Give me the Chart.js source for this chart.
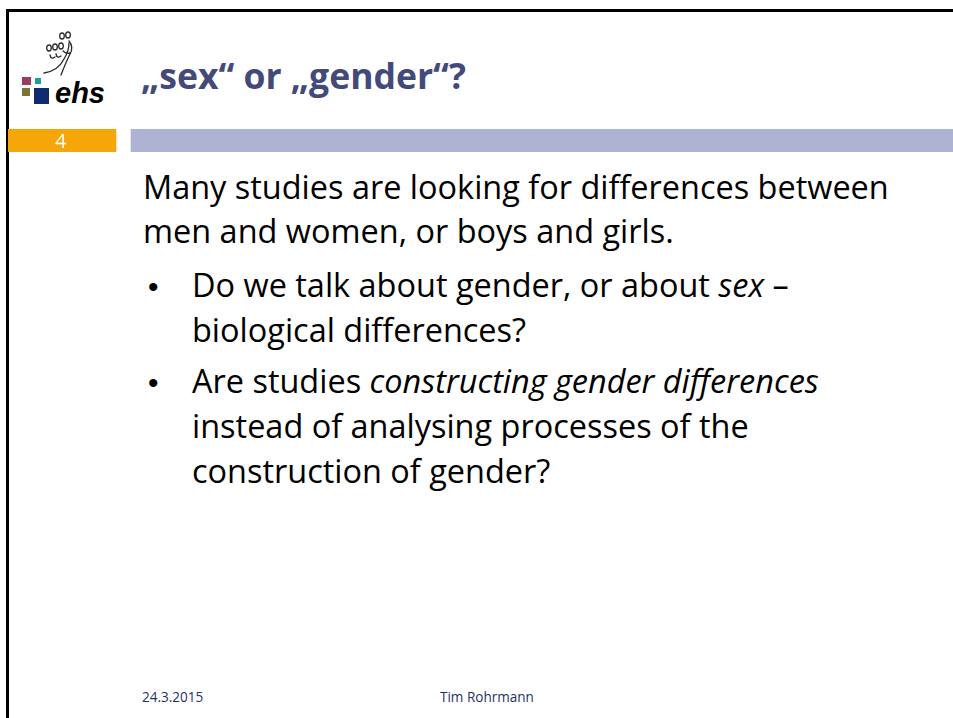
<!DOCTYPE html>
<html>
<head>
<meta charset="utf-8">
<script src="https://cdn.jsdelivr.net/npm/chart.js@4.4.1/dist/chart.umd.min.js"></script>
<style>
  body { margin: 0; background: #fff; width: 953px; height: 718px; overflow: hidden; position: relative; font-family: "Open Sans", Lato, sans-serif; }
  .frame-top { position: absolute; left: 6px; top: 9px; width: 947px; height: 3px; background: #000; }
  .frame-left { position: absolute; left: 6px; top: 9px; width: 3px; height: 709px; background: #000; }
  #band { position: absolute; left: 8px; top: 129px; width: 945px; height: 23px; }
  .t { position: absolute; white-space: nowrap; line-height: 1.2; }
  .title { font-weight: bold; color: #434a7a; }
  .body { color: #000; }
  .bullet { color: #000; font-family: "Liberation Sans", Arial, sans-serif; }
  .foot { color: #1f3068; }
  .num { color: #fff; }
  .sq { position: absolute; }
</style>
</head>
<body>
<div class="frame-top"></div>
<div class="frame-left"></div>

<!-- logo -->
<svg style="position:absolute;left:0;top:0" width="120" height="110">
  <g fill="none" stroke="#2a2a2a" stroke-width="1.3" stroke-linecap="round">
    <ellipse cx="62" cy="36" rx="2.3" ry="3"/>
    <ellipse cx="68" cy="35" rx="2.3" ry="3"/>
    <ellipse cx="49" cy="48" rx="2.3" ry="3"/>
    <ellipse cx="55" cy="47" rx="2.3" ry="3"/>
    <ellipse cx="61" cy="46" rx="2.3" ry="3"/>
    <path d="M50 55 q1 5 5 2"/>
    <path d="M56 54 q1 5 5 2"/>
    <path d="M69 41 q5 6 1 13 q-4 8 -9 21"/>
    <path d="M44 73 q14 -2 20 -14 q5 -8 5 -16"/>
    <path d="M63 51 q3 3 7 2"/>
  </g>
</svg>
<div class="sq" style="left:22px;top:77px;width:9px;height:8px;background:#9b3c58"></div>
<div class="sq" style="left:35px;top:78px;width:6px;height:6px;background:#1a9f9a"></div>
<div class="sq" style="left:22px;top:88px;width:8px;height:8px;background:#7d7430"></div>
<div class="sq" style="left:34px;top:88px;width:15px;height:16px;background:#0f2a6e"></div>
<div class="t" id="logo" style="font-weight:bold;font-style:italic;color:#000;font-family:'Liberation Sans',Arial,sans-serif">ehs</div>

<div class="t title" id="title">„sex“ or „gender“?</div>

<canvas id="band" width="945" height="23"></canvas>
<div class="t num" id="num">4</div>

<div class="t body" id="l1">Many studies are looking for differences between</div>
<div class="t body" id="l2">men and women, or boys and girls.</div>
<div class="t bullet" id="b1">•</div>
<div class="t body" id="l3">Do we talk about gender, or about <i>sex</i> –</div>
<div class="t body" id="l4">biological differences?</div>
<div class="t bullet" id="b2">•</div>
<div class="t body" id="l5">Are studies <i>constructing gender differences</i></div>
<div class="t body" id="l6">instead of analysing processes of the</div>
<div class="t body" id="l7">construction of gender?</div>

<div class="t foot" id="f1">24.3.2015</div>
<div class="t foot" id="f2">Tim Rohrmann</div>

<script>
// header band: slide number box, gap, grey bar
const bandLabels = ["band"];
const bandOrange = [108];
const bandGap = [15];
const bandGrey = [822];

new Chart(document.getElementById("band"), {
  type: "bar",
  data: {
    labels: bandLabels,
    datasets: [
      { data: bandOrange, backgroundColor: "#f5a70a" },
      { data: bandGap, backgroundColor: "rgba(0,0,0,0)" },
      { data: bandGrey, backgroundColor: "#afb3d3" },
    ],
  },
  options: {
    indexAxis: "y",
    responsive: false,
    animation: false,
    events: [],
    layout: { padding: 0 },
    datasets: { bar: { barPercentage: 1, categoryPercentage: 1, borderWidth: 0 } },
    scales: {
      x: { stacked: true, min: 0, max: 945, display: false },
      y: { stacked: true, display: false },
    },
    plugins: { legend: { display: false }, tooltip: { enabled: false } },
  },
});

// text layout: size from a reference width, then put the baseline in place
function fit(id, left, right, fs) {
  const el = document.getElementById(id);
  el.style.left = left + "px";
  el.style.fontSize = fs + "px";
  const w = el.getBoundingClientRect().width;
  return fs * (right - left) / w;
}

function place(id, left, base, fs) {
  const el = document.getElementById(id);
  el.style.fontSize = fs + "px";
  el.style.left = left + "px";
  el.style.top = "0px";
  const probe = document.createElement("span");
  probe.style.display = "inline-block";
  probe.style.height = "0";
  probe.style.verticalAlign = "baseline";
  el.appendChild(probe);
  const b = probe.getBoundingClientRect().top - el.getBoundingClientRect().top;
  probe.remove();
  el.style.top = (base - b) + "px";
}

function layout() {
  const bodyFs = fit("l1", 143, 889, 30);
  place("l1", 143, 199, bodyFs);
  place("l2", 143, 243, bodyFs);
  place("b1", 148, 297, 30);
  place("l3", 192, 297, bodyFs);
  place("l4", 192, 342, bodyFs);
  place("b2", 148, 393, 30);
  place("l5", 192, 393, bodyFs);
  place("l6", 192, 438, bodyFs);
  place("l7", 192, 483, bodyFs);

  place("title", 141, 89, fit("title", 141, 466, 30));
  const footFs = fit("f2", 440, 534, 13);
  place("f1", 142, 702, footFs);
  place("f2", 440, 702, footFs);
  place("num", 55, 148, 20);
  place("logo", 55, 103, fit("logo", 55, 105, 26));
}

layout();
if (document.fonts) document.fonts.ready.then(layout);
</script>
</body>
</html>
